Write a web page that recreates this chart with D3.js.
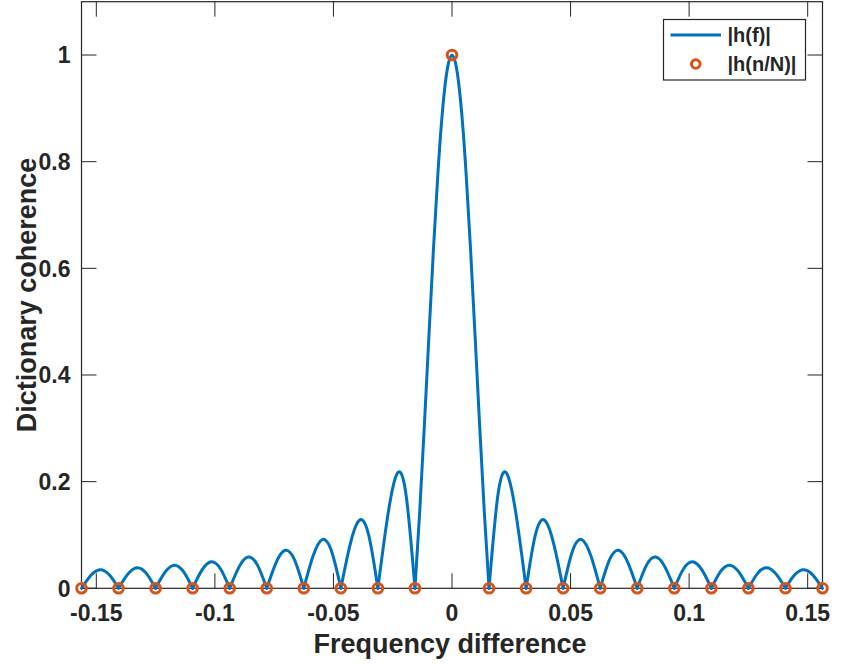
<!DOCTYPE html>
<html>
<head>
<meta charset="utf-8">
<script src="https://cdn.jsdelivr.net/npm/d3@7/dist/d3.min.js"></script>
<style>
  html, body { margin: 0; padding: 0; background: #fff; }
  svg { display: block; }
  text { font-family: "Liberation Sans", Arial, Helvetica, sans-serif; font-weight: bold; fill: #262626; }
</style>
</head>
<body>
<svg id="chart" width="844" height="666"></svg>
<script>
// ---------------- data ----------------
const N = 64;                       // samples -> zero spacing 1/N
const sampleIndex = [-10,-9,-8,-7,-6,-5,-4,-3,-2,-1,0,1,2,3,4,5,6,7,8,9,10];
const sampleMag   = [0,0,0,0,0,0,0,0,0,0,1,0,0,0,0,0,0,0,0,0,0];

// main lobe: offsets in units of 1/N, magnitudes
const mainLobeOffsets = [-1,-0.875,-0.75,-0.625,-0.5,-0.375,-0.25,-0.125,0,0.125,0.25,0.375,0.5,0.625,0.75,0.875,1];
const mainLobeMag     = [0,0.1393,0.3002,0.4706,0.6367,0.7842,0.9003,0.9745,1,0.9745,0.9003,0.7842,0.6367,0.4706,0.3002,0.1393,0];

// side lobes m = 1..9 (symmetric), sampled at quarter positions inside each lobe
const sideLobeIndex = [1,2,3,4,5,6,7,8,9];
const lobeOffsets   = [0, 0.25, 0.5, 0.75, 1];
const sideLobeQ1  = [0.1802,0.1002,0.0695,0.0533,0.0434,0.0366,0.0317,0.0280,0.0252];
const sideLobeMid = [0.2124,0.1276,0.0914,0.0713,0.0586,0.0498,0.0434,0.0386,0.0348];
const sideLobeQ3  = [0.1288,0.0821,0.0604,0.0478,0.0397,0.0340,0.0298,0.0265,0.0240];

const xTicks = [-0.15,-0.1,-0.05,0,0.05,0.1,0.15];
const xTickLabels = ["-0.15","-0.1","-0.05","0","0.05","0.1","0.15"];
const yTicks = [0,0.2,0.4,0.6,0.8,1];
const yTickLabels = ["0","0.2","0.4","0.6","0.8","1"];
const yMax = 1.1;
const legendLabels = ["|h(f)|", "|h(n/N)|"];
const xLabel = "Frequency difference";
const yLabel = "Dictionary coherence";

// ---------------- layout ----------------
const margin = {left: 81.5, right: 844 - 822.5, top: 1.7, bottom: 666 - 588.3};
const W = 844, H = 666;
const blue = "#0072BD", orange = "#D95319", axisColor = "#262626";

const svg = d3.select("#chart");
const x = d3.scaleLinear()
  .domain([d3.min(sampleIndex) / N, d3.max(sampleIndex) / N])
  .range([margin.left, W - margin.right]);
const y = d3.scaleLinear().domain([0, yMax]).range([H - margin.bottom, margin.top]);

// build lobes
const lobes = [];
lobes.push(mainLobeOffsets.map((o, i) => ({f: o / N, v: mainLobeMag[i]})));
sideLobeIndex.forEach((m, i) => {
  const vals = [0, sideLobeQ1[i], sideLobeMid[i], sideLobeQ3[i], 0];
  lobes.push(lobeOffsets.map((q, j) => ({f: (m + q) / N, v: vals[j]})));
  lobes.push(lobeOffsets.map((q, j) => ({f: -(m + q) / N, v: vals[j]})));
});

const line = d3.line().x(d => x(d.f)).y(d => y(d.v)).curve(d3.curveNatural);

const tickLen = 15;
const x0 = x.range()[0], x1 = x.range()[1], y0 = y.range()[0], y1 = y.range()[1];

// ticks (all four sides)
const g = svg.append("g");
xTicks.forEach(t => {
  g.append("line").attr("x1", x(t)).attr("x2", x(t)).attr("y1", y0).attr("y2", y0 - tickLen)
    .attr("stroke", axisColor).attr("stroke-width", 1);
  g.append("line").attr("x1", x(t)).attr("x2", x(t)).attr("y1", y1).attr("y2", y1 + tickLen)
    .attr("stroke", axisColor).attr("stroke-width", 1);
});
yTicks.forEach(t => {
  g.append("line").attr("x1", x0).attr("x2", x0 + tickLen).attr("y1", y(t)).attr("y2", y(t))
    .attr("stroke", axisColor).attr("stroke-width", 1);
  g.append("line").attr("x1", x1).attr("x2", x1 - tickLen).attr("y1", y(t)).attr("y2", y(t))
    .attr("stroke", axisColor).attr("stroke-width", 1);
});

// box
svg.append("rect").attr("x", x0).attr("y", y1).attr("width", x1 - x0).attr("height", y0 - y1)
  .attr("fill", "none").attr("stroke", axisColor).attr("stroke-width", 1.2);

// tick labels
xTicks.forEach((t, i) => {
  svg.append("text").attr("x", x(t)).attr("y", 620.5).attr("text-anchor", "middle")
    .style("font-size", "23px").text(xTickLabels[i]);
});
yTicks.forEach((t, i) => {
  svg.append("text").attr("x", x0 - 11).attr("y", y(t)).attr("dy", "0.36em").attr("text-anchor", "end")
    .style("font-size", "23px").text(yTickLabels[i]);
});

// axis labels
svg.append("text").attr("x", (x0 + x1) / 2 - 2).attr("y", 653).attr("text-anchor", "middle")
  .style("font-size", "27px").text(xLabel);
svg.append("text").attr("transform", `translate(36,${(y0 + y1) / 2}) rotate(-90)`)
  .attr("text-anchor", "middle").style("font-size", "27px").text(yLabel);

// curve
svg.append("g").selectAll("path").data(lobes).join("path")
  .attr("d", line).attr("fill", "none").attr("stroke", blue).attr("stroke-width", 3)
  .attr("stroke-linejoin", "round").attr("stroke-linecap", "round");

// samples
svg.append("g").selectAll("circle").data(sampleIndex).join("circle")
  .attr("cx", (n) => x(n / N)).attr("cy", (n, i) => y(sampleMag[i]))
  .attr("r", 4.8).attr("fill", "none").attr("stroke", orange).attr("stroke-width", 3);

// legend
const lg = svg.append("g");
lg.append("rect").attr("x", 663.5).attr("y", 19.5).attr("width", 142).attr("height", 60.5)
  .attr("fill", "#fff").attr("stroke", axisColor).attr("stroke-width", 1.2);
lg.append("line").attr("x1", 670.5).attr("x2", 721).attr("y1", 35).attr("y2", 35)
  .attr("stroke", blue).attr("stroke-width", 3);
lg.append("circle").attr("cx", 695.7).attr("cy", 64).attr("r", 4.3)
  .attr("fill", "none").attr("stroke", orange).attr("stroke-width", 3);
lg.append("text").attr("x", 727.5).attr("y", 42).style("font-size", "20px").text(legendLabels[0]);
lg.append("text").attr("x", 727.5).attr("y", 71).style("font-size", "20px").text(legendLabels[1]);
</script>
</body>
</html>
